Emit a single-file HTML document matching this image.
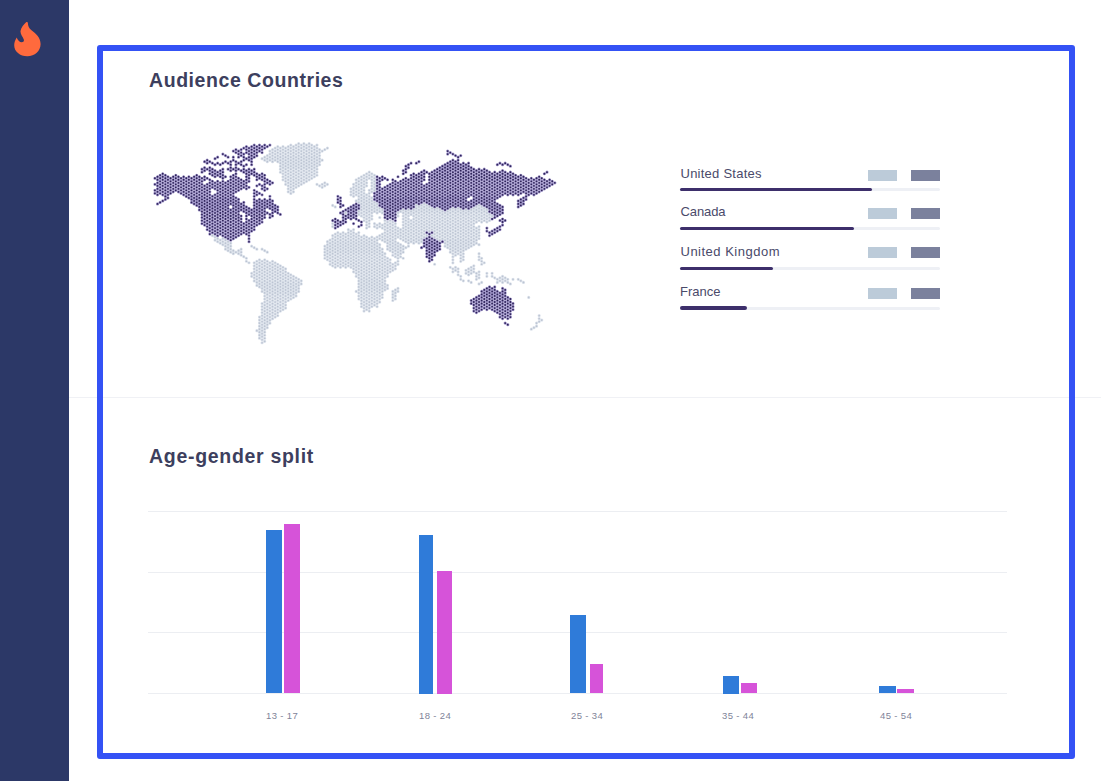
<!DOCTYPE html>
<html><head><meta charset="utf-8">
<style>
html,body{margin:0;padding:0;}
body{width:1101px;height:781px;position:relative;overflow:hidden;background:#fff;font-family:"Liberation Sans",sans-serif;}
.abs{position:absolute;}
#side{left:0;top:0;width:69px;height:781px;background:#2c3867;}
#frame{left:97px;top:44.7px;width:966.2px;height:702.3px;border:6px solid #3452f5;border-radius:3px;}
#divider{left:69px;top:397.4px;width:1032px;height:1px;background:#f0f1f5;}
.title{font-weight:bold;font-size:19.5px;color:#3d3f5e;white-space:nowrap;line-height:20px;}
.lbl{font-size:13px;color:#4a4a6a;white-space:nowrap;line-height:14px;}
.track{left:680px;width:260px;height:3px;border-radius:2px;background:#eef0f5;}
.fill{left:680px;height:3.4px;border-radius:2px;background:#3d2f6b;}
.bx1{left:868px;width:29px;height:11px;background:#bccbd9;}
.bx2{left:910.5px;width:29.5px;height:11px;background:#7b819d;}
.grid{left:148px;width:859px;height:1px;background:#eceef2;}
.bb{background:#2f7bd9;}
.bp{background:#d653d9;}
.ax{font-size:9.5px;color:#7f8499;white-space:nowrap;line-height:10px;letter-spacing:0.35px;}
</style></head><body>
<div id="side" class="abs"></div>
<svg class="abs" style="left:14px;top:22px" width="27" height="35" viewBox="0 0 27 35"><path fill="#ff6a3d" d="M12.1 .2C10 2.2 7 5.5 6.5 9C6.2 12 8.5 14.5 9.8 17.4C10.3 19 9.5 20.3 7.8 20.3C5.5 20.3 3.5 18 2.7 15.5C1.2 18 .2 20.5 .2 23.2C.2 29.5 6 34.2 13.3 34.2C20.8 34.2 26.6 29 26.6 22C26.6 15.5 21.5 11.5 17.5 8.3C15 6.2 13.9 3.5 13.9 1.2C13.9 .2 12.9-.3 12.1 .2Z"/></svg>
<div id="divider" class="abs"></div>
<div id="frame" class="abs"></div>
<div class="abs title" style="left:149px;top:70px;letter-spacing:0.57px">Audience Countries</div>
<div class="abs title" style="left:149px;top:446px;letter-spacing:0.7px">Age-gender split</div>

<!-- legend -->
<div class="abs lbl" style="left:680.5px;top:167px;letter-spacing:0.25px">United States</div>
<div class="abs lbl" style="left:680.5px;top:205px;letter-spacing:-0.1px">Canada</div>
<div class="abs lbl" style="left:680.5px;top:245px;letter-spacing:0.5px">United Kingdom</div>
<div class="abs lbl" style="left:680px;top:285px">France</div>
<div class="abs bx1" style="top:169.6px"></div><div class="abs bx2" style="top:169.6px"></div>
<div class="abs bx1" style="top:207.8px"></div><div class="abs bx2" style="top:207.8px"></div>
<div class="abs bx1" style="top:247.3px"></div><div class="abs bx2" style="top:247.3px"></div>
<div class="abs bx1" style="top:287.9px"></div><div class="abs bx2" style="top:287.9px"></div>
<div class="abs track" style="top:187.7px"></div><div class="abs fill" style="top:187.5px;width:192px"></div>
<div class="abs track" style="top:227.2px"></div><div class="abs fill" style="top:227px;width:174px"></div>
<div class="abs track" style="top:267px"></div><div class="abs fill" style="top:266.8px;width:92.5px"></div>
<div class="abs track" style="top:306.5px"></div><div class="abs fill" style="top:306.3px;width:67px"></div>

<!-- chart -->
<div class="abs grid" style="top:511px"></div>
<div class="abs grid" style="top:572px"></div>
<div class="abs grid" style="top:632px"></div>
<div class="abs grid" style="top:693px"></div>
<div class="abs bb" style="left:266px;top:530.3px;width:15.7px;height:163.2px"></div>
<div class="abs bp" style="left:284px;top:524.4px;width:15.6px;height:169.1px"></div>
<div class="abs bb" style="left:418.9px;top:534.5px;width:13.8px;height:159px"></div>
<div class="abs bp" style="left:436.5px;top:571px;width:15.6px;height:122.5px"></div>
<div class="abs bb" style="left:569.7px;top:614.9px;width:16.5px;height:78.6px"></div>
<div class="abs bp" style="left:590px;top:663.8px;width:13.2px;height:29.7px"></div>
<div class="abs bb" style="left:722.9px;top:676px;width:15.8px;height:17.5px"></div>
<div class="abs bp" style="left:740.8px;top:682.8px;width:16.4px;height:10.7px"></div>
<div class="abs bb" style="left:879.2px;top:686.2px;width:16.7px;height:7.3px"></div>
<div class="abs bp" style="left:897.1px;top:688.6px;width:16.7px;height:4.9px"></div>
<div class="abs ax" style="left:266px;top:711px">13 - 17</div>
<div class="abs ax" style="left:419px;top:711px">18 - 24</div>
<div class="abs ax" style="left:571px;top:711px">25 - 34</div>
<div class="abs ax" style="left:722px;top:711px">35 - 44</div>
<div class="abs ax" style="left:880px;top:711px">45 - 54</div>

<!--MAP--><svg class="abs" style="left:0;top:0" width="1101" height="781" viewBox="0 0 1101 781" fill="none" stroke-linecap="round" stroke-dasharray="0 3.02"><defs><path id="pl" d="M212.41 235.6v.02M215.02 237.11v3.07M217.64 238.62v3.07M220.25 240.12v3.07M222.86 238.62v6.09M225.48 240.12v9.1M228.09 241.63v9.1M230.71 243.14v9.1M233.32 250.69v3.07M235.93 252.2v.02M238.55 250.69v3.07M241.16 249.18v6.09M243.78 256.72v.02M246.39 258.23v3.07M249 262.76v.02M251.62 246.16v.02M251.62 273.32v3.07M254.23 247.67v.02M254.23 262.76v18.16M256.85 249.18v.02M256.85 261.25v24.19M256.85 330.66v.02M259.46 259.74v27.21M259.46 317.08v21.18M262.07 158.64v.02M262.07 249.18v.02M262.07 261.25v30.23M262.07 303.5v39.28M264.69 157.13v3.07M264.69 250.69v.02M264.69 259.74v81.54M267.3 155.62v6.09M267.3 252.2v.02M267.3 261.25v69.46M269.92 151.09v9.1M269.92 262.76v60.41M272.53 149.58v12.12M272.53 261.25v57.39M275.14 148.08v12.12M275.14 262.76v54.37M277.76 146.57v15.14M277.76 264.27v51.36M280.37 148.08v24.19M280.37 265.78v45.32M282.99 146.57v33.25M282.99 267.29v42.3M285.6 148.08v36.27M285.6 268.8v39.28M288.21 146.57v45.32M288.21 273.32v27.21M290.83 145.06v48.34M290.83 274.83v24.19M293.44 146.57v45.32M293.44 276.34v21.18M296.06 145.06v42.3M296.06 277.85v18.16M298.67 143.55v42.3M298.67 279.36v12.12M301.28 145.06v39.28M301.28 280.87v3.07M303.9 143.55v39.28M306.51 145.06v36.27M309.13 143.55v36.27M311.74 145.06v33.25M314.35 146.57v30.23M316.97 145.06v30.23M316.97 184.29v.02M319.58 149.58v15.14M319.58 185.8v.02M322.2 151.09v.02M322.2 160.15v.02M322.2 184.29v3.07M324.81 149.58v.02M324.81 182.78v3.07M324.81 246.16v12.12M327.42 148.08v.02M327.42 184.29v.02M327.42 241.63v18.16M330.04 240.12v24.19M332.65 205.42v.02M332.65 223.53v3.07M332.65 235.6v30.23M335.27 206.93v.02M335.27 234.09v33.25M337.88 232.58v33.25M340.49 234.09v33.25M343.11 232.58v33.25M345.72 212.96v.02M345.72 234.09v33.25M348.34 229.56v36.27M350.95 188.82v6.09M350.95 231.07v36.27M353.56 184.29v12.12M353.56 229.56v42.3M356.18 179.76v15.14M356.18 200.89v.02M356.18 234.09v42.3M356.18 291.43v.02M358.79 178.26v24.19M358.79 211.45v3.07M358.79 232.58v66.45M361.41 176.75v39.28M361.41 237.11v69.46M364.02 175.24v45.32M364.02 235.6v75.5M366.63 173.73v12.12M366.63 194.85v33.25M366.63 237.11v75.5M369.25 172.22v6.09M369.25 190.33v36.27M369.25 238.62v72.48M371.86 173.73v18.16M371.86 197.87v21.18M371.86 237.11v72.48M374.48 175.24v15.14M374.48 202.4v9.1M374.48 223.53v3.07M374.48 238.62v69.46M377.09 203.91v9.1M377.09 225.03v3.07M377.09 237.11v69.46M379.7 208.44v3.07M379.7 217.49v.02M379.7 223.53v3.07M379.7 235.6v3.07M379.7 244.65v57.39M382.32 209.94v3.07M382.32 225.03v3.07M382.32 234.09v6.09M382.32 249.18v48.34M384.93 220.51v21.18M384.93 253.71v36.27M387.55 222.02v27.21M387.55 258.23v18.16M387.55 285.39v3.07M390.16 220.51v30.23M390.16 259.74v12.12M392.77 222.02v33.25M392.77 264.27v6.09M392.77 291.43v9.1M395.39 223.53v33.25M395.39 262.76v6.09M395.39 289.92v9.1M398 212.96v3.07M398 228.05v9.1M398 243.14v21.18M398 288.41v3.07M400.62 211.45v.02M400.62 229.56v9.1M400.62 244.65v12.12M403.23 209.94v30.23M403.23 246.16v6.09M403.23 258.23v.02M405.84 211.45v30.23M405.84 247.67v.02M408.46 209.94v36.27M411.07 211.45v3.07M411.07 220.51v21.18M413.69 209.94v33.25M416.3 205.42v36.27M418.91 206.93v36.27M421.53 205.42v36.27M424.14 203.91v33.25M426.76 205.42v24.19M426.76 235.6v.02M429.37 206.93v24.19M431.98 208.44v21.18M431.98 235.6v.02M434.6 209.94v27.21M434.6 264.27v.02M437.21 208.44v30.23M439.83 209.94v30.23M442.44 211.45v27.21M445.05 212.96v33.25M447.67 211.45v36.27M450.28 209.94v42.3M450.28 267.29v.02M452.9 208.44v54.37M452.9 268.8v3.07M455.51 209.94v45.32M455.51 267.29v3.07M458.12 208.44v45.32M458.12 268.8v6.09M460.74 209.94v51.36M460.74 276.34v3.07M463.35 211.45v48.34M463.35 280.87v.02M465.97 209.94v39.28M465.97 270.31v3.07M468.58 211.45v36.27M468.58 268.8v6.09M468.58 280.87v.02M471.19 209.94v36.27M471.19 267.29v6.09M471.19 282.38v.02M473.81 208.44v36.27M473.81 265.78v6.09M476.42 206.93v15.14M476.42 228.05v15.14M476.42 273.32v6.09M479.04 205.42v15.14M479.04 226.54v12.12M479.04 244.65v.02M479.04 253.71v6.09M479.04 271.81v6.09M479.04 283.89v.02M481.65 206.93v15.14M481.65 258.23v6.09M481.65 282.38v.02M484.26 208.44v12.12M484.26 262.76v.02M486.88 209.94v12.12M486.88 273.32v3.07M489.49 214.47v6.09M492.11 215.98v.02M492.11 273.32v3.07M494.72 277.85v.02M497.33 279.36v3.07M499.95 277.85v3.07M502.56 276.34v6.09M505.18 277.85v3.07M507.79 279.36v3.07M510.4 283.89v.02M513.02 279.36v.02M518.25 279.36v.02M520.86 280.87v.02M523.47 282.38v.02M528.7 297.47v.02M531.32 329.16v.02M533.93 327.65v.02M536.54 323.12v3.07M539.16 315.57v6.09M541.77 320.1v.02"/><path id="pd" d="M154.9 178.26v.02M154.9 184.29v.02M154.9 190.33v3.07M157.51 176.75v18.16M157.51 203.91v.02M160.13 175.24v18.16M160.13 202.4v.02M162.74 173.73v21.18M162.74 200.89v.02M165.36 175.24v24.19M167.97 176.75v21.18M170.58 178.26v15.14M173.2 176.75v15.14M175.81 175.24v15.14M178.43 176.75v15.14M181.04 178.26v15.14M183.65 176.75v18.16M186.27 178.26v18.16M188.88 176.75v21.18M191.5 178.26v24.19M194.11 176.75v27.21M196.72 175.24v30.23M199.34 176.75v33.25M201.95 169.2v3.07M201.95 178.26v45.32M204.57 161.66v.02M204.57 167.69v3.07M204.57 176.75v3.07M204.57 185.8v39.28M207.18 160.15v3.07M207.18 169.2v.02M207.18 178.26v.02M207.18 184.29v45.32M209.79 161.66v.02M209.79 167.69v6.09M209.79 179.76v54.37M212.41 163.17v.02M212.41 169.2v6.09M212.41 181.27v6.09M212.41 196.36v36.27M215.02 158.64v.02M215.02 164.67v.02M215.02 170.71v6.09M215.02 182.78v6.09M215.02 194.85v39.28M217.64 157.13v.02M217.64 163.17v.02M217.64 172.22v3.07M217.64 181.27v54.37M220.25 164.67v.02M220.25 170.71v6.09M220.25 182.78v51.36M222.86 154.11v.02M222.86 163.17v.02M222.86 169.2v66.45M225.48 155.62v.02M225.48 161.66v.02M225.48 176.75v.02M225.48 182.78v54.37M228.09 157.13v.02M228.09 163.17v.02M228.09 169.2v.02M228.09 181.27v57.39M230.71 161.66v9.1M230.71 176.75v27.21M230.71 209.94v30.23M233.32 151.09v.02M233.32 157.13v3.07M233.32 169.2v.02M233.32 175.24v63.43M235.93 149.58v3.07M235.93 161.66v30.23M235.93 197.87v39.28M238.55 151.09v6.09M238.55 163.17v.02M238.55 169.2v.02M238.55 178.26v12.12M238.55 199.38v36.27M241.16 149.58v6.09M241.16 161.66v3.07M241.16 170.71v.02M241.16 179.76v9.1M241.16 203.91v6.09M241.16 215.98v18.16M243.78 148.08v.02M243.78 154.11v6.09M243.78 166.18v6.09M243.78 181.27v6.09M243.78 202.4v9.1M243.78 223.53v9.1M246.39 146.57v6.09M246.39 158.64v.02M246.39 164.67v.02M246.39 170.71v18.16M246.39 206.93v27.21M249 148.08v12.12M249 169.2v12.12M249 187.31v.02M249 208.44v6.09M249 220.51v21.18M251.62 146.57v18.16M251.62 170.71v3.07M251.62 209.94v21.18M254.23 145.06v12.12M254.23 169.2v6.09M254.23 190.33v39.28M256.85 146.57v9.1M256.85 173.73v6.09M256.85 185.8v.02M256.85 191.84v3.07M256.85 200.89v24.19M259.46 145.06v6.09M259.46 175.24v3.07M259.46 184.29v.02M259.46 193.35v.02M259.46 199.38v24.19M262.07 146.57v6.09M262.07 173.73v6.09M262.07 185.8v3.07M262.07 194.85v.02M262.07 200.89v21.18M264.69 145.06v3.07M264.69 175.24v15.14M264.69 199.38v18.16M267.3 146.57v.02M267.3 179.76v3.07M267.3 188.82v.02M267.3 200.89v6.09M267.3 212.96v.02M269.92 145.06v.02M269.92 181.27v3.07M269.92 196.36v12.12M269.92 214.47v3.07M272.53 182.78v.02M272.53 200.89v15.14M275.14 205.42v6.09M277.76 206.93v6.09M280.37 214.47v.02M332.65 220.51v.02M335.27 219v9.1M337.88 196.36v6.09M337.88 220.51v6.09M340.49 197.87v9.1M340.49 212.96v.02M340.49 222.02v3.07M343.11 205.42v.02M343.11 211.45v12.12M345.72 209.94v.02M345.72 215.98v6.09M348.34 208.44v9.1M350.95 206.93v12.12M353.56 205.42v12.12M353.56 223.53v.02M356.18 203.91v15.14M358.79 205.42v3.07M358.79 220.51v.02M358.79 226.54v.02M361.41 222.02v3.07M374.48 193.35v6.09M377.09 176.75v24.19M379.7 178.26v27.21M382.32 176.75v3.07M382.32 188.82v18.16M384.93 178.26v.02M384.93 187.31v30.23M387.55 179.76v.02M387.55 185.8v33.25M390.16 184.29v33.25M392.77 179.76v39.28M395.39 181.27v39.28M398 176.75v.02M398 182.78v27.21M400.62 181.27v27.21M403.23 170.71v3.07M403.23 179.76v27.21M405.84 166.18v6.09M405.84 178.26v30.23M408.46 164.67v3.07M408.46 179.76v27.21M411.07 163.17v.02M411.07 175.24v33.25M413.69 173.73v33.25M416.3 163.17v.02M416.3 175.24v27.21M418.91 161.66v.02M418.91 173.73v30.23M421.53 172.22v30.23M421.53 247.67v.02M424.14 170.71v9.1M424.14 185.8v15.14M424.14 240.12v6.09M426.76 172.22v.02M426.76 184.29v18.16M426.76 232.58v.02M426.76 238.62v18.16M429.37 173.73v30.23M429.37 234.09v27.21M431.98 172.22v33.25M431.98 232.58v.02M431.98 238.62v21.18M434.6 170.71v36.27M434.6 240.12v15.14M437.21 169.2v36.27M437.21 241.63v9.1M439.83 167.69v39.28M439.83 243.14v6.09M442.44 166.18v42.3M442.44 241.63v.02M445.05 164.67v45.32M447.67 151.09v3.07M447.67 163.17v45.32M450.28 152.6v.02M450.28 161.66v45.32M452.9 154.11v.02M452.9 160.15v45.32M455.51 155.62v.02M455.51 161.66v45.32M458.12 157.13v48.34M460.74 155.62v.02M460.74 164.67v42.3M463.35 163.17v45.32M465.97 164.67v42.3M468.58 163.17v33.25M468.58 202.4v6.09M471.19 167.69v27.21M471.19 200.89v6.09M471.19 300.49v3.07M473.81 169.2v36.27M473.81 298.98v12.12M476.42 170.71v33.25M476.42 297.47v15.14M479.04 169.2v33.25M479.04 295.96v15.14M481.65 170.71v33.25M481.65 291.43v18.16M484.26 169.2v36.27M484.26 289.92v18.16M486.88 170.71v36.27M486.88 228.05v3.07M486.88 288.41v21.18M489.49 172.22v39.28M489.49 232.58v3.07M489.49 286.9v21.18M492.11 173.73v39.28M492.11 219v.02M492.11 231.07v3.07M492.11 288.41v21.18M494.72 172.22v45.32M494.72 229.56v3.07M494.72 286.9v24.19M497.33 164.67v.02M497.33 173.73v24.19M497.33 203.91v12.12M497.33 228.05v3.07M497.33 291.43v21.18M499.95 163.17v.02M499.95 172.22v24.19M499.95 205.42v9.1M499.95 220.51v.02M499.95 226.54v3.07M499.95 292.94v24.19M502.56 164.67v.02M502.56 170.71v24.19M502.56 206.93v6.09M502.56 219v6.09M502.56 288.41v30.23M505.18 163.17v.02M505.18 172.22v21.18M505.18 220.51v.02M505.18 289.92v27.21M505.18 323.12v.02M507.79 164.67v.02M507.79 173.73v21.18M507.79 297.47v21.18M507.79 324.63v.02M510.4 166.18v.02M510.4 172.22v21.18M510.4 298.98v18.16M513.02 173.73v21.18M513.02 303.5v6.09M515.63 175.24v18.16M518.25 176.75v18.16M518.25 200.89v6.09M520.86 175.24v18.16M520.86 199.38v6.09M523.47 176.75v15.14M523.47 197.87v6.09M526.09 178.26v21.18M528.7 179.76v15.14M531.32 178.26v15.14M533.93 179.76v15.14M536.54 178.26v15.14M539.16 176.75v15.14M541.77 178.26v12.12M544.39 173.73v.02M544.39 179.76v9.1M547 172.22v.02M547 181.27v6.09M549.61 179.76v6.09M552.23 181.27v3.07M554.84 182.78v.02"/></defs><use href="#pl" stroke="#dde3ec" stroke-width="3.2"/><use href="#pl" stroke="#bcc4d2" stroke-width="1.7"/><use href="#pd" stroke="#a298cb" stroke-width="3.2"/><use href="#pd" stroke="#2e2358" stroke-width="1.8"/></svg><!--/MAP-->
</body></html>
